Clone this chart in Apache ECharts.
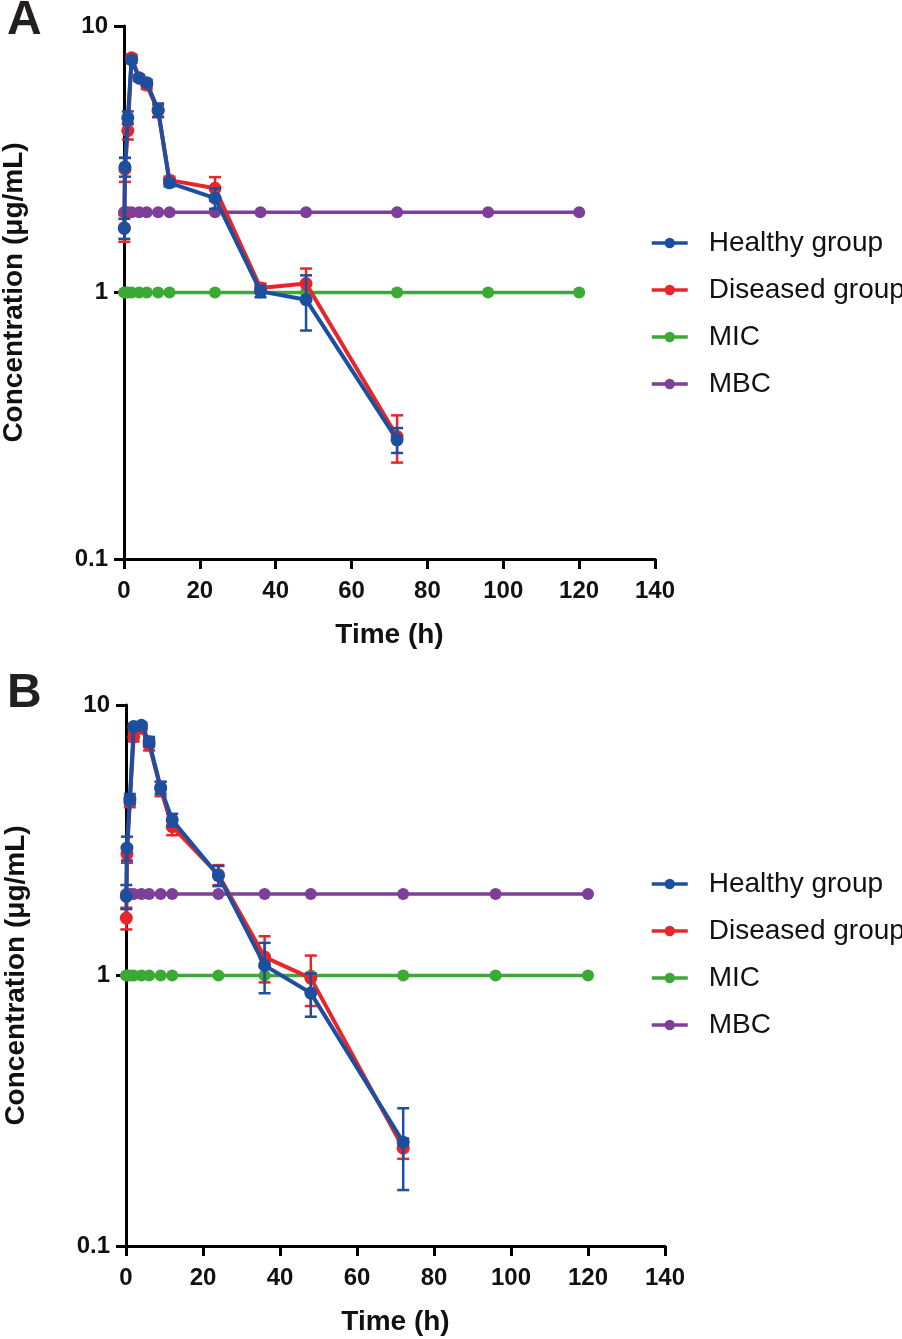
<!DOCTYPE html>
<html>
<head>
<meta charset="utf-8">
<script src="https://cdn.jsdelivr.net/npm/echarts@6/dist/echarts.min.js"></script>
<style>
html,body{margin:0;padding:0;background:#fff;}
#c{width:902px;height:1339px;}
</style>
</head>
<body>
<div id="c"></div>
<script>
// ---- data ----
const timePoints = [0.083, 0.25, 1, 2, 4, 6, 9, 12, 24, 36, 48, 72];
const refTimes = [0, 0.5, 1, 2, 4, 6, 9, 12, 24, 36, 48, 72, 96, 120];
const micValue = 1;
const mbcValue = 2;

const healthyA = [1.74, 2.96, 4.53, 7.46, 6.37, 6.13, 4.84, 2.58, 2.26, 1.01, 0.94, 0.28];
const healthyA_sd = [0.15, 0.24, 0.25, 0.2, 0.15, 0.15, 0.28, 0.08, 0.2, 0.05, 0.22, 0.03];
const diseasedA = [1.75, 2.9, 4.05, 7.6, 6.4, 6.0, 4.8, 2.64, 2.46, 1.04, 1.08, 0.288];
const diseasedA_sd = [0.2, 0.3, 0.3, 0.2, 0.15, 0.2, 0.25, 0.08, 0.25, 0.04, 0.15, 0.058];

const healthyB = [1.96, 2.96, 4.49, 8.32, 8.41, 7.32, 4.95, 3.76, 2.34, 1.09, 0.861, 0.242];
const healthyB_sd = [0.2, 0.3, 0.2, 0.2, 0.2, 0.3, 0.25, 0.2, 0.2, 0.23, 0.157, 0.081];
const diseasedB = [1.63, 2.81, 4.39, 7.63, 8.2, 7.14, 4.9, 3.55, 2.36, 1.17, 0.978, 0.23];
const diseasedB_sd = [0.15, 0.2, 0.2, 0.3, 0.2, 0.35, 0.3, 0.25, 0.2, 0.227, 0.207, 0.02];

const seriesNames = ['Healthy group', 'Diseased group', 'MIC', 'MBC'];
const xTicks = {min: 0, max: 140, interval: 20};
const yTicks = {min: 0.1, max: 10};

// ---- styles ----
const FONT = 'Liberation Sans, Arial, Helvetica, sans-serif';
const C = {blue: '#1d4f9f', red: '#e6262b', green: '#3aaa35', purple: '#7d3f98'};

function zip(xs, ys) { return xs.map((x, i) => [x, ys[i]]); }

function lineSeries(name, xs, ys, color, idx, size, width, z) {
  return {
    name: name, type: 'line', xAxisIndex: idx, yAxisIndex: idx,
    data: zip(xs, ys), symbol: 'circle', symbolSize: size, showSymbol: true,
    lineStyle: {color: color, width: width}, itemStyle: {color: color},
    z: z, animation: false, clip: false
  };
}

function errSeries(xs, ys, sd, color, idx, z) {
  return {
    type: 'custom', xAxisIndex: idx, yAxisIndex: idx, z: z, animation: false,
    data: xs.map((x, i) => [x, ys[i] - sd[i], ys[i] + sd[i]]),
    encode: {x: 0, y: [1, 2]},
    renderItem: function (params, api) {
      const lo = api.coord([api.value(0), api.value(1)]);
      const hi = api.coord([api.value(0), api.value(2)]);
      const w = 6;
      const st = {stroke: color, lineWidth: 2.5};
      return {type: 'group', children: [
        {type: 'line', shape: {x1: lo[0], y1: lo[1], x2: hi[0], y2: hi[1]}, style: st},
        {type: 'line', shape: {x1: lo[0] - w, y1: lo[1], x2: lo[0] + w, y2: lo[1]}, style: st},
        {type: 'line', shape: {x1: hi[0] - w, y1: hi[1], x2: hi[0] + w, y2: hi[1]}, style: st}
      ]};
    }
  };
}

function xAxis(idx) {
  return {
    type: 'value', gridIndex: idx, min: xTicks.min, max: xTicks.max, interval: xTicks.interval,
    name: 'Time (h)', nameLocation: 'middle', nameGap: 62,
    nameTextStyle: {fontFamily: FONT, fontWeight: 'bold', fontSize: 28, color: '#111'},
    axisLine: {show: true, onZero: false, lineStyle: {color: '#000', width: 3}},
    axisTick: {show: true, inside: false, length: 10, lineStyle: {color: '#000', width: 3}},
    axisLabel: {fontFamily: FONT, fontWeight: 'bold', fontSize: 24, color: '#111', margin: 20},
    splitLine: {show: false}
  };
}
function yAxis(idx) {
  return {
    type: 'log', logBase: 10, gridIndex: idx, min: yTicks.min, max: yTicks.max,
    name: 'Concentration (μg/mL)', nameLocation: 'middle', nameGap: 96, nameRotate: 90,
    nameTextStyle: {fontFamily: FONT, fontWeight: 'bold', fontSize: 28, color: '#111'},
    axisLine: {show: true, onZero: false, lineStyle: {color: '#000', width: 3}},
    axisTick: {show: true, inside: false, length: 10, lineStyle: {color: '#000', width: 3}},
    minorTick: {show: false},
    axisLabel: {fontFamily: FONT, fontWeight: 'bold', fontSize: 24, color: '#111', margin: 16,
      formatter: v => String(+v.toPrecision(3))},
    splitLine: {show: false}
  };
}
function legend(top) {
  return {
    orient: 'vertical', left: 650, top: top, padding: 0,
    data: seriesNames, itemWidth: 36, itemHeight: 13, itemGap: 19,
    selectedMode: false,
    lineStyle: {width: 3.5},
    textStyle: {fontFamily: FONT, fontSize: 28, color: '#111', lineHeight: 27, padding: [0, 0, 0, 16]}
  };
}

const chart = echarts.init(document.getElementById('c'), null, {renderer: 'canvas'});
chart.setOption({
  backgroundColor: '#fff',
  animation: false,
  grid: [
    {left: 124, top: 26, width: 531, height: 533, outerBoundsMode: 'none', containLabel: false},
    {left: 126, top: 705, width: 539, height: 541, outerBoundsMode: 'none', containLabel: false}
  ],
  xAxis: [xAxis(0), xAxis(1)],
  yAxis: [yAxis(0), yAxis(1)],
  legend: [legend(229), legend(870)],
  graphic: [
    {type: 'text', left: 7, top: -3, style: {text: 'A', font: 'bold 48px ' + FONT, fill: '#231f20'}},
    {type: 'text', left: 7, top: 670, style: {text: 'B', font: 'bold 48px ' + FONT, fill: '#231f20'}}
  ],
  series: [
    lineSeries('MIC', refTimes, refTimes.map(() => micValue), C.green, 0, 12, 3.5, 2),
    lineSeries('MBC', refTimes, refTimes.map(() => mbcValue), C.purple, 0, 12, 3.5, 2),
    lineSeries('Diseased group', timePoints, diseasedA, C.red, 0, 13, 4, 3),
    errSeries(timePoints, diseasedA, diseasedA_sd, C.red, 0, 4),
    lineSeries('Healthy group', timePoints, healthyA, C.blue, 0, 13, 4, 5),
    errSeries(timePoints, healthyA, healthyA_sd, C.blue, 0, 6),

    lineSeries('MIC', refTimes, refTimes.map(() => micValue), C.green, 1, 12, 3.5, 2),
    lineSeries('MBC', refTimes, refTimes.map(() => mbcValue), C.purple, 1, 12, 3.5, 2),
    lineSeries('Diseased group', timePoints, diseasedB, C.red, 1, 13, 4, 3),
    errSeries(timePoints, diseasedB, diseasedB_sd, C.red, 1, 4),
    lineSeries('Healthy group', timePoints, healthyB, C.blue, 1, 13, 4, 5),
    errSeries(timePoints, healthyB, healthyB_sd, C.blue, 1, 6)
  ]
});
</script>
</body>
</html>
